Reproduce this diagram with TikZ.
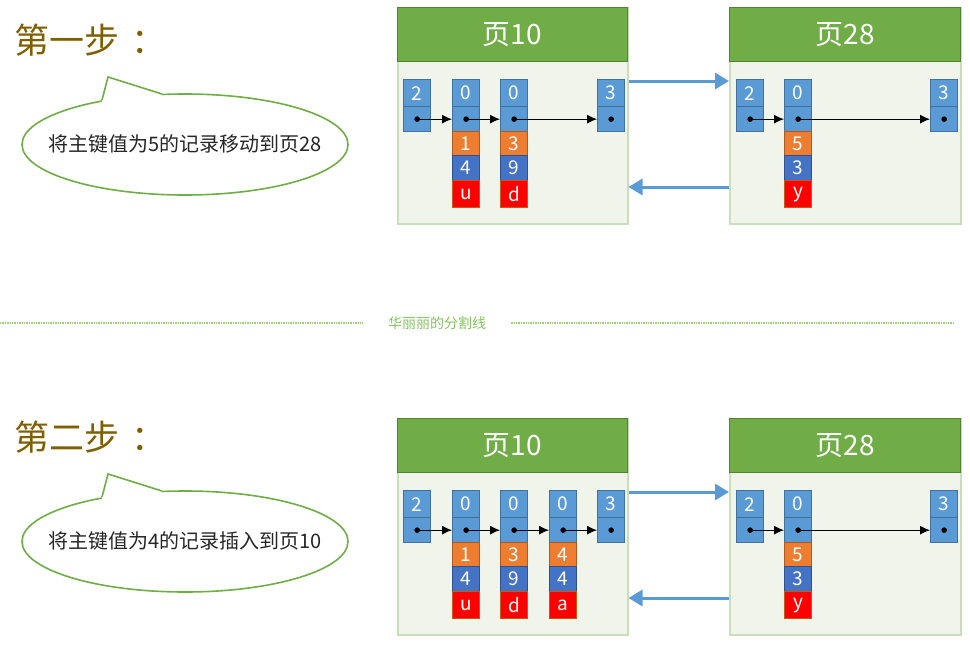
\documentclass[tikz,border=0pt]{standalone}
\usepackage{fontspec}
\newfontfamily\cjk{Noto Sans CJK SC}
\usetikzlibrary{arrows.meta,calc}
\definecolor{hdgreen}{HTML}{70AD47}
\definecolor{hdgreenb}{HTML}{548235}
\definecolor{bodyfill}{HTML}{F0F4EB}
\definecolor{bodyline}{HTML}{C9DEBB}
\definecolor{cblue}{HTML}{5B9BD5}
\definecolor{cblueb}{HTML}{41719C}
\definecolor{corange}{HTML}{ED7D31}
\definecolor{corangeb}{HTML}{AE5A21}
\definecolor{cdark}{HTML}{4472C4}
\definecolor{cdarkb}{HTML}{2F528F}
\definecolor{cred}{HTML}{FF0000}
\definecolor{credb}{HTML}{C55A11}
\definecolor{titlecol}{HTML}{7F6000}
\definecolor{bubbleline}{HTML}{70AD47}
\definecolor{septext}{HTML}{86C262}
\definecolor{sepline}{HTML}{A0CC82}
\definecolor{arrowblue}{HTML}{5B9BD5}
\newcommand\rec[3]{%
  \node[ccell,minimum height=27pt] (#1h) at (#2,79) {#3};
  \node[ccell,minimum height=25pt] (#1p) at (#2,106) {};
  \fill (#1p.center) circle (2.8pt);}
\newcommand\recd[5]{%
  \rec{#1}{#2}{0}
  \node[ocell] (#1o) at (#2,131) {#3};
  \node[dcell] (#1b) at (#2,155) {#4};
  \node[rcell] (#1r) at (#2,180) {#5};}
\newcommand\pagebox[4]{%
  \node[pagebody,minimum width=#3] (#1) at (#2,7) {};
  \node[pagehead,minimum width=#3] (#1t) at (#2,7) {#4};}
\newcommand\bubble[3]{% name, text (center at 185, 144.5)
  \draw[bubblestyle] (185,144.5) ellipse [x radius=163pt, y radius=50.5pt];
  \fill[white] (102,100) -- (108,77) -- (162,94) -- (162,98) -- (102,104) -- cycle;
  \draw[bubblestyle] (102,100) -- (108,77) -- (162,94);
  \node[btext] (#1) at (185,144) {#2};}
\begin{document}
\begin{tikzpicture}[x=1pt,y=-1pt,
  cellbase/.style={draw, line width=1.3pt, anchor=north west, minimum width=27pt, inner sep=0pt, text=white, font=\cjk\fontsize{19}{19}\selectfont},
  ccell/.style={cellbase, fill=cblue, draw=cblueb},
  ocell/.style={cellbase, fill=corange, draw=corangeb, minimum height=24pt},
  dcell/.style={cellbase, fill=cdark, draw=cdarkb, minimum height=25pt},
  rcell/.style={cellbase, fill=cred, draw=credb, minimum height=27pt},
  pagebody/.style={anchor=north west, minimum height=216pt, fill=bodyfill, draw=bodyline, line width=1.5pt, inner sep=0pt},
  pagehead/.style={anchor=north west, minimum height=54pt, fill=hdgreen, draw=hdgreenb, line width=1pt, text=white, inner sep=0pt, font=\cjk\fontsize{28}{28}\selectfont},
  ptr/.style={-{Latex[length=10pt,width=9pt]}, line width=1pt},
  bigarrow/.style={-{Triangle[length=14pt,width=16pt]}, line width=3pt, draw=arrowblue, color=arrowblue},
  title/.style={anchor=west, text=titlecol, inner sep=0pt, font=\cjk\fontsize{35}{35}\selectfont},
  bubblestyle/.style={draw=bubbleline, line width=1.6pt, line join=miter},
  btext/.style={text=black!85, inner sep=0pt, font=\cjk\fontsize{20}{20}\selectfont},
  septxt/.style={text=septext, inner sep=0pt, font=\cjk\fontsize{14}{14}\selectfont},
  sepl/.style={draw=sepline, line width=2.5pt, dash pattern=on 1.4pt off 1pt}
]
\path[use as bounding box, fill=white] (0,0) rectangle (970,648);

% ---------- step 1 ----------
\node[title] (s1) at (14,40) {第一步\hspace{12pt}：};
\bubble{m1}{将主键值为5的记录移动到页28}{}

\pagebox{pA}{397}{230pt}{页10}
\pagebox{pB}{729}{231pt}{页28}

\rec{a1}{403}{2}
\recd{a2}{452}{1}{4}{u}
\recd{a3}{500}{3}{9}{d}
\rec{a4}{597}{3}
\draw[ptr] (a1p.center) -- (a2p.west);
\draw[ptr] (a2p.center) -- (a3p.west);
\draw[ptr] (a3p.center) -- (a4p.west);

\rec{b1}{736}{2}
\recd{b2}{784}{5}{3}{y}
\rec{b3}{930}{3}
\draw[ptr] (b1p.center) -- (b2p.west);
\draw[ptr] (b2p.center) -- (b3p.west);

\draw[bigarrow] ($(pA.north east)+(0,74)$) -- ($(pB.north west)+(0,74)$);
\draw[bigarrow] ($(pB.north west)+(0,180)$) -- ($(pA.north east)+(0,180)$);

% ---------- separator ----------
\node[septxt] (sep) at (437,323) {华丽丽的分割线};
\coordinate (sepL) at (0,323);
\coordinate (sepR) at (953,323);
\draw[sepl] (sepL) -- ([xshift=-25pt]sep.west);
\draw[sepl] ([xshift=25pt]sep.east) -- (sepR);

% ---------- step 2 ----------
\begin{scope}[shift={(0,397)}]
\node[title] (s2) at (14,40) {第二步\hspace{12pt}：};
\bubble{m2}{将主键值为4的记录插入到页10}{}
\end{scope}

\begin{scope}[shift={(0,411)}]
\pagebox{pC}{397}{230pt}{页10}
\pagebox{pD}{729}{231pt}{页28}

\rec{c1}{403}{2}
\recd{c2}{452}{1}{4}{u}
\recd{c3}{500}{3}{9}{d}
\recd{c4}{549}{4}{4}{a}
\rec{c5}{597}{3}
\draw[ptr] (c1p.center) -- (c2p.west);
\draw[ptr] (c2p.center) -- (c3p.west);
\draw[ptr] (c3p.center) -- (c4p.west);
\draw[ptr] (c4p.center) -- (c5p.west);

\rec{d1}{736}{2}
\recd{d2}{784}{5}{3}{y}
\rec{d3}{930}{3}
\draw[ptr] (d1p.center) -- (d2p.west);
\draw[ptr] (d2p.center) -- (d3p.west);

\draw[bigarrow] ($(pC.north east)+(0,74)$) -- ($(pD.north west)+(0,74)$);
\draw[bigarrow] ($(pD.north west)+(0,180)$) -- ($(pC.north east)+(0,180)$);
\end{scope}
\end{tikzpicture}
\end{document}
